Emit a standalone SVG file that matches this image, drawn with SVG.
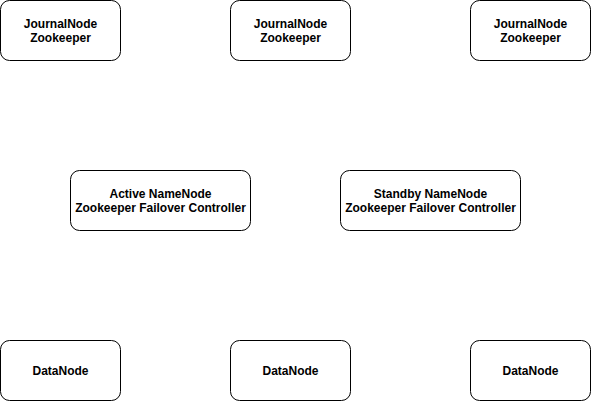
<svg xmlns="http://www.w3.org/2000/svg" width="591" height="401" viewBox="0 0 591 401">
<style>
.box{fill:#ffffff;stroke:#000000;stroke-width:1}
.t{font-family:"Liberation Sans",Arial,Helvetica,sans-serif;font-size:12px;font-weight:bold;fill:#000000;text-anchor:middle}
</style>
<rect x="0" y="0" width="591" height="401" fill="#ffffff"/>
<g id="connectors"></g>
<g id="jn1"><rect class="box" x="0.5" y="0.5" width="120" height="60" rx="9" ry="9"/><text class="t" x="60.5" y="28">JournalNode</text><text class="t" x="60.5" y="42">Zookeeper</text></g>
<g id="jn2"><rect class="box" x="230.5" y="0.5" width="120" height="60" rx="9" ry="9"/><text class="t" x="290.5" y="28">JournalNode</text><text class="t" x="290.5" y="42">Zookeeper</text></g>
<g id="jn3"><rect class="box" x="470.5" y="0.5" width="120" height="60" rx="9" ry="9"/><text class="t" x="530.5" y="28">JournalNode</text><text class="t" x="530.5" y="42">Zookeeper</text></g>
<g id="active"><rect class="box" x="70.5" y="170.5" width="180" height="60" rx="9" ry="9"/><text class="t" x="160.5" y="198">Active NameNode</text><text class="t" x="160.5" y="212">Zookeeper Failover Controller</text></g>
<g id="standby"><rect class="box" x="340.5" y="170.5" width="180" height="60" rx="9" ry="9"/><text class="t" x="430.5" y="198">Standby NameNode</text><text class="t" x="430.5" y="212">Zookeeper Failover Controller</text></g>
<g id="dn1"><rect class="box" x="0.5" y="340.5" width="120" height="60" rx="9" ry="9"/><text class="t" x="60.5" y="375">DataNode</text></g>
<g id="dn2"><rect class="box" x="230.5" y="340.5" width="120" height="60" rx="9" ry="9"/><text class="t" x="290.5" y="375">DataNode</text></g>
<g id="dn3"><rect class="box" x="470.5" y="340.5" width="120" height="60" rx="9" ry="9"/><text class="t" x="530.5" y="375">DataNode</text></g>
</svg>
